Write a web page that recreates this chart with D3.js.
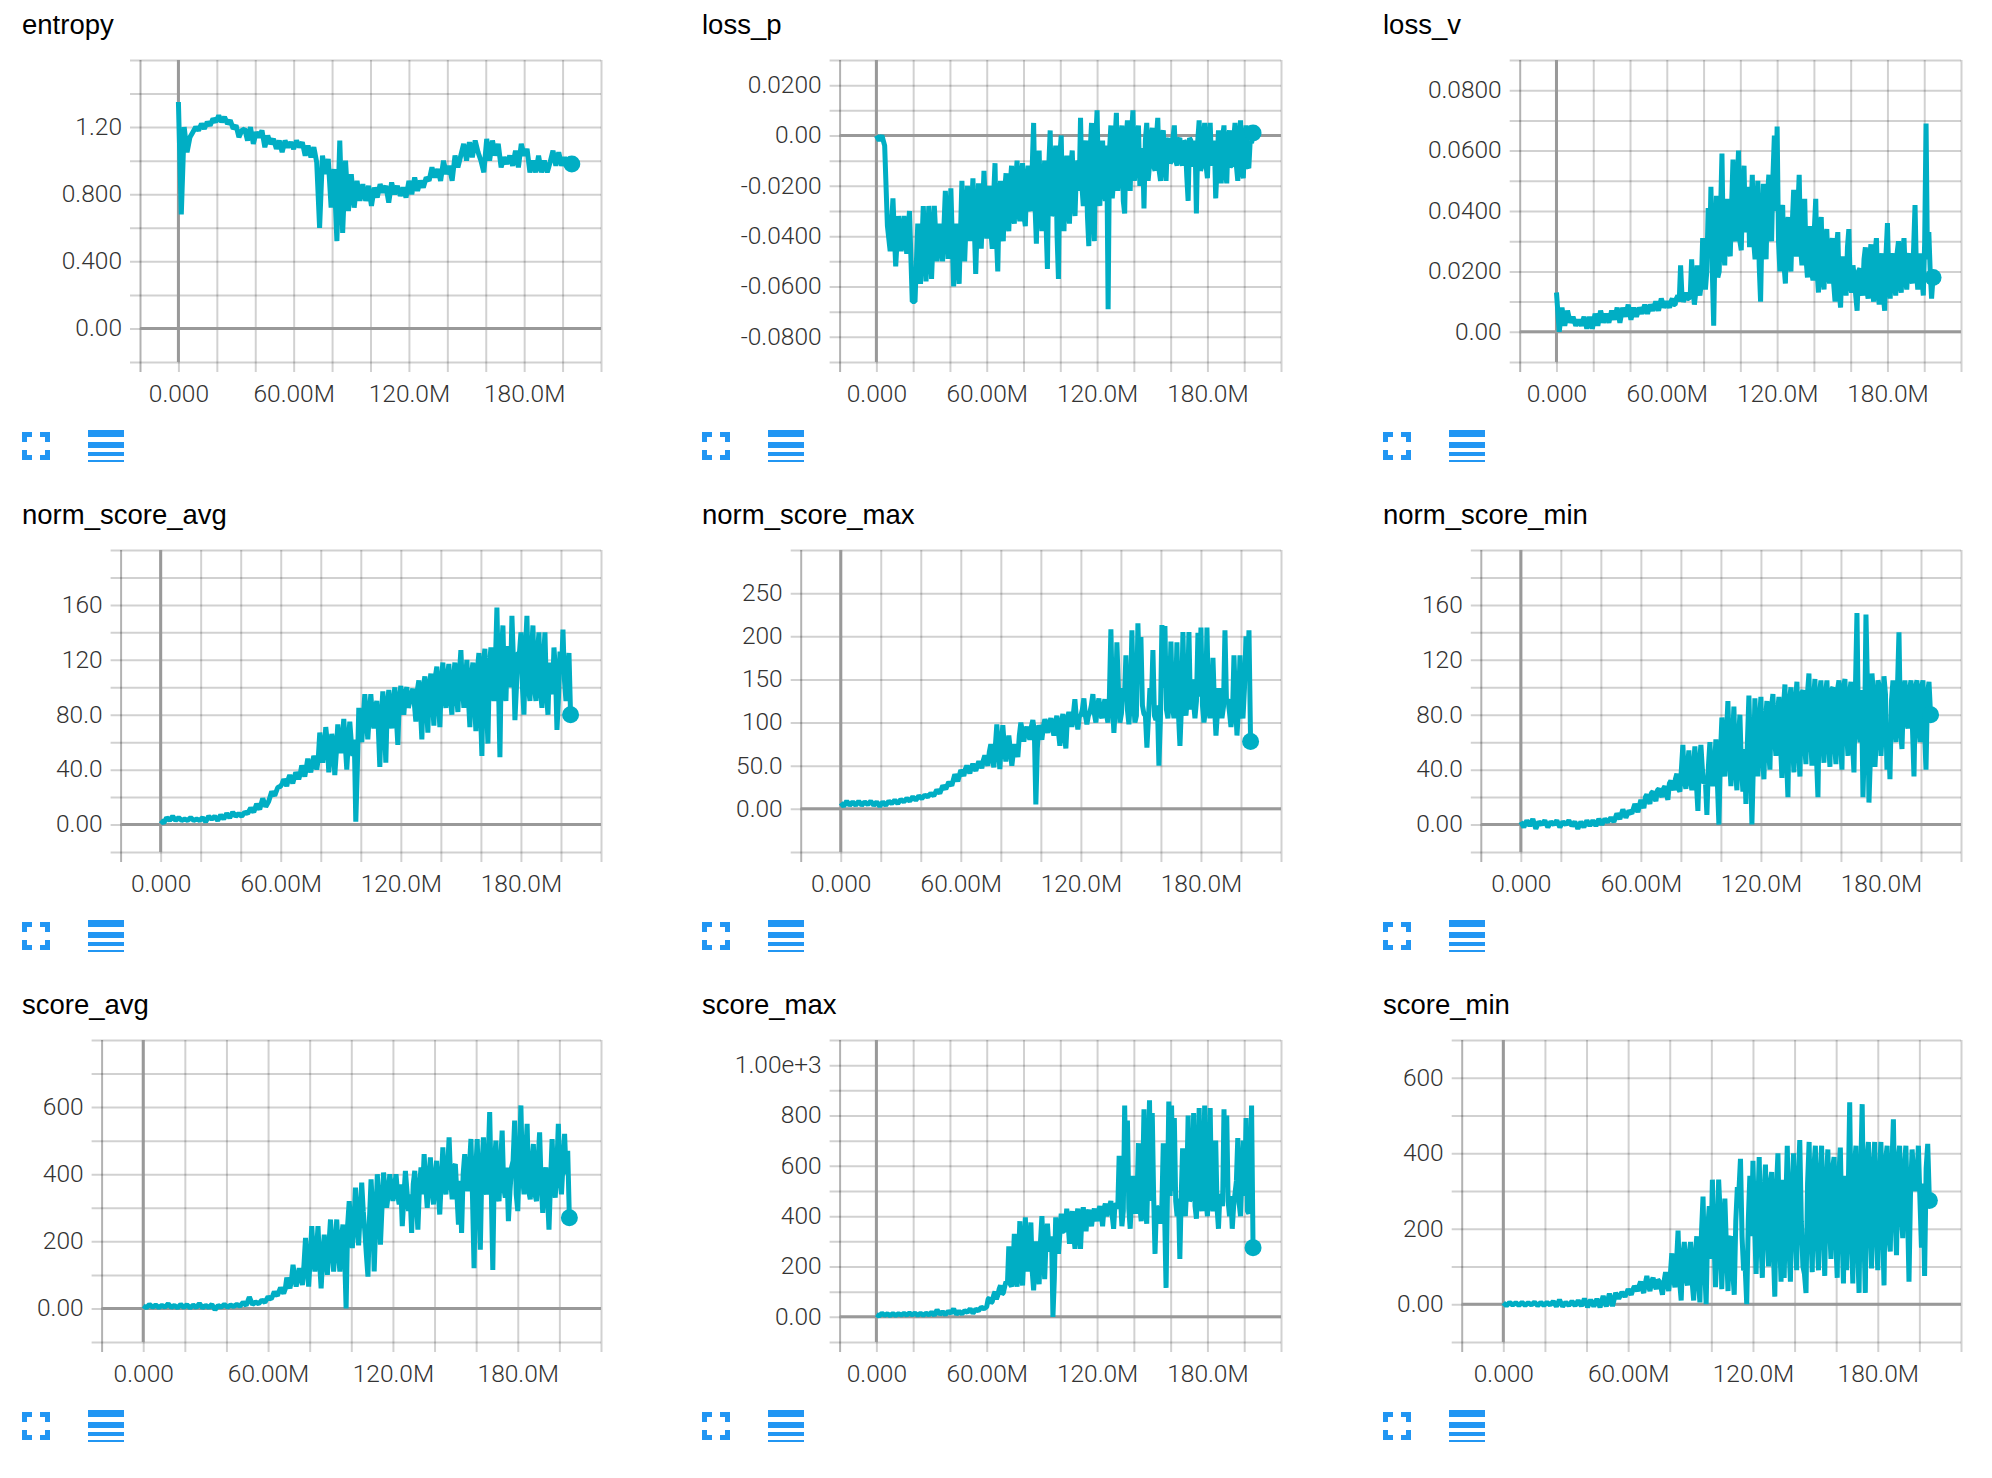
<!DOCTYPE html>
<html>
<head>
<meta charset="utf-8">
<script src="https://cdn.jsdelivr.net/npm/d3@7"></script>
<style>
	body { margin: 0; background: #fff; }
	.title { font-family: "Liberation Sans", sans-serif; font-size: 27.5px; fill: #000; }
	.tick text { font-family: Roboto, sans-serif; font-weight: 300; font-size: 24.5px; fill: #333; }
	.grid line { stroke: #000; stroke-opacity: 0.18; stroke-width: 2px; }
	.grid .domain { display: none; }
	.zero { stroke: #999; stroke-width: 3px; }
	.run { fill: none; stroke: #00aec4; stroke-width: 5px; stroke-linejoin: bevel; }
	.last { fill: #00aec4; }
	.icon { fill: #2196f3; }
</style>
</head>
<body>
<div id="viz"></div>
<script>
// training steps in millions, one value every 1.5M and then the last logged step
var steps = d3.range(0, 205, 1.5).concat([204.8]);
// the noisy part of a run is read twice as fine, these fall between the steps above
var fineSteps = d3.range(60.75, 204, 1.5);

var xTicks = [-20, 0, 20, 40, 60, 80, 100, 120, 140, 160, 180, 200, 220];
var xLabels = ["", "0.000", "", "", "60.00M", "", "", "120.0M", "", "", "180.0M", "", ""];

var entropyValues = [
	1.35,0.68,1.20,1.05,1.14,1.17,1.20,1.18,1.22,1.19,
	1.23,1.21,1.25,1.23,1.27,1.23,1.26,1.22,1.24,1.19,
	1.21,1.14,1.18,1.19,1.12,1.20,1.10,1.17,1.14,1.18,
	1.08,1.15,1.10,1.13,1.07,1.12,1.05,1.12,1.08,1.11,
	1.07,1.12,1.08,1.11,1.03,1.09,1.02,1.08,0.99,0.60,
	1.03,0.92,1.01,0.72,0.95,0.52,1.12,0.57,1.00,0.70,
	0.92,0.72,0.88,0.76,0.86,0.76,0.85,0.73,0.84,0.78,
	0.86,0.81,0.85,0.75,0.87,0.80,0.85,0.79,0.84,0.78,
	0.88,0.80,0.90,0.82,0.88,0.84,0.90,0.88,0.96,0.90,
	0.95,0.88,1.00,0.92,0.97,0.88,1.03,0.96,1.03,1.10,
	1.00,1.11,1.02,1.12,1.05,1.00,0.93,1.13,1.00,1.12,
	1.03,1.10,0.96,1.02,0.98,1.03,0.97,1.06,0.96,1.10,
	1.03,1.07,0.93,1.00,0.93,1.03,0.93,1.00,0.93,0.99,
	1.06,0.97,1.05,0.97,1.02,0.96,1.00,0.98
];
var entropyFine = [];
var entropyTicks = [-0.2, 0, 0.2, 0.4, 0.6, 0.8, 1.0, 1.2, 1.4, 1.6];
var entropyLabels = ["", "0.00", "", "0.400", "", "0.800", "", "1.20", "", ""];

var lossPValues = [
	0.000,-0.002,0.000,-0.004,-0.036,-0.046,-0.025,-0.052,-0.032,-0.046,
	-0.032,-0.047,-0.030,-0.066,-0.066,-0.035,-0.059,-0.028,-0.058,-0.028,
	-0.057,-0.028,-0.050,-0.035,-0.050,-0.022,-0.049,-0.021,-0.060,-0.035,
	-0.059,-0.018,-0.050,-0.020,-0.042,-0.017,-0.055,-0.019,-0.045,-0.014,
	-0.041,-0.020,-0.045,-0.011,-0.054,-0.018,-0.042,-0.015,-0.038,-0.012,
	-0.035,-0.010,-0.034,-0.011,-0.036,-0.012,-0.030,0.005,-0.043,-0.006,
	-0.038,-0.010,-0.053,0.002,-0.030,-0.004,-0.057,0.000,-0.038,-0.008,
	-0.035,-0.006,-0.032,-0.010,0.007,-0.028,-0.002,-0.044,0.005,-0.042,
	0.010,-0.028,-0.002,-0.026,-0.069,0.004,-0.018,0.009,-0.016,0.004,
	-0.031,0.006,-0.022,0.010,-0.013,0.004,-0.014,-0.029,0.005,-0.012,
	0.003,-0.014,0.007,-0.018,0.002,-0.018,-0.001,-0.010,0.004,-0.012,
	-0.001,-0.012,-0.003,-0.026,-0.002,-0.012,-0.031,0.006,-0.012,0.005,
	-0.017,0.005,-0.010,-0.025,0.002,-0.019,0.004,-0.019,0.002,-0.012,
	0.005,-0.018,0.006,-0.017,0.004,-0.013,-0.003,0.001
];
var lossPFine = [
	-0.028,-0.038,-0.024,-0.040,-0.026,-0.035,-0.022,-0.034,-0.020,-0.032,
	-0.018,-0.030,-0.016,-0.032,-0.018,-0.028,-0.012,-0.028,-0.014,-0.030,
	-0.020,-0.035,-0.012,-0.032,-0.012,-0.040,-0.008,-0.030,-0.014,-0.030,
	-0.012,-0.026,-0.014,-0.022,-0.020,-0.006,-0.032,-0.006,-0.030,-0.002,
	-0.020,-0.008,-0.022,-0.004,-0.006,-0.025,-0.002,-0.022,-0.002,-0.026,
	-0.002,-0.016,0.001,-0.018,-0.001,-0.020,-0.005,-0.002,-0.018,-0.001,
	-0.012,-0.001,-0.014,0.000,-0.012,-0.003,-0.011,-0.001,-0.010,-0.002,
	-0.009,-0.002,-0.016,-0.001,-0.011,-0.002,-0.002,-0.014,-0.002,-0.012,
	-0.002,-0.012,-0.002,-0.012,-0.004,-0.001,-0.014,-0.001,-0.012,-0.002,
	-0.012,-0.002,-0.014,-0.002,-0.012,-0.002
];
var lossPTicks = [-0.09, -0.08, -0.07, -0.06, -0.05, -0.04, -0.03, -0.02, -0.01, 0, 0.01, 0.02, 0.03];
var lossPLabels = ["", "-0.0800", "", "-0.0600", "", "-0.0400", "", "-0.0200", "", "0.00", "", "0.0200", ""];

var lossVValues = [
	0.013,0.000,0.008,0.002,0.007,0.003,0.005,0.002,0.004,0.002,
	0.005,0.001,0.005,0.001,0.006,0.002,0.007,0.003,0.006,0.003,
	0.007,0.004,0.008,0.003,0.008,0.005,0.009,0.004,0.008,0.005,
	0.008,0.006,0.009,0.006,0.009,0.007,0.010,0.007,0.011,0.008,
	0.010,0.008,0.011,0.009,0.012,0.022,0.010,0.013,0.011,0.024,
	0.009,0.022,0.012,0.031,0.014,0.041,0.048,0.002,0.045,0.020,
	0.059,0.022,0.044,0.025,0.057,0.030,0.060,0.027,0.055,0.035,
	0.028,0.052,0.024,0.050,0.010,0.049,0.024,0.052,0.030,0.065,
	0.068,0.020,0.042,0.016,0.038,0.020,0.047,0.025,0.052,0.022,
	0.044,0.018,0.035,0.017,0.044,0.013,0.038,0.014,0.034,0.016,
	0.031,0.010,0.033,0.008,0.025,0.012,0.034,0.013,0.018,0.007,
	0.021,0.012,0.028,0.011,0.029,0.010,0.031,0.009,0.026,0.007,
	0.036,0.011,0.026,0.012,0.030,0.013,0.031,0.014,0.026,0.016,
	0.042,0.014,0.026,0.012,0.069,0.033,0.011,0.018
];
var lossVFine = [
	0.009,0.010,0.009,0.011,0.010,0.012,0.011,0.011,0.012,0.014,
	0.013,0.015,0.016,0.018,0.020,0.025,0.020,0.030,0.018,0.040,
	0.028,0.040,0.027,0.042,0.032,0.048,0.030,0.046,0.033,0.048,
	0.038,0.030,0.040,0.022,0.034,0.030,0.045,0.033,0.052,0.040,
	0.030,0.040,0.022,0.035,0.024,0.036,0.028,0.040,0.028,0.038,
	0.024,0.032,0.020,0.034,0.020,0.032,0.018,0.030,0.020,0.028,
	0.016,0.028,0.014,0.022,0.016,0.028,0.016,0.022,0.012,0.020,
	0.014,0.024,0.014,0.024,0.014,0.026,0.014,0.022,0.012,0.026,
	0.018,0.024,0.016,0.026,0.016,0.026,0.018,0.024,0.018,0.028,
	0.020,0.022,0.018,0.030,0.024,0.020
];
var lossVTicks = [-0.01, 0, 0.01, 0.02, 0.03, 0.04, 0.05, 0.06, 0.07, 0.08, 0.09];
var lossVLabels = ["", "0.00", "", "0.0200", "", "0.0400", "", "0.0600", "", "0.0800", ""];

var normAvgValues = [
	3,1,5,3,6,3,5,3,4,3,
	5,3,4,3,5,2,6,4,6,3,
	7,4,8,5,9,6,8,6,9,8,
	12,9,15,11,19,13,17,24,21,27,
	28,33,28,36,30,38,33,43,35,48,
	38,50,40,67,45,71,38,66,36,73,
	52,77,40,75,50,2,85,60,95,62,
	95,70,90,42,97,45,98,70,100,58,
	101,80,100,90,99,75,105,62,108,67,
	110,72,115,71,118,85,117,80,118,82,
	127,85,120,71,118,68,125,50,128,59,
	129,90,158,49,145,90,120,152,76,125,
	140,80,152,90,145,90,140,85,140,80,
	100,129,69,126,142,90,125,80
];
var normAvgFine = [
	30,31,33,33,34,36,37,39,41,42,
	44,47,48,58,55,60,50,60,52,60,
	62,58,60,60,62,40,68,78,78,80,
	80,85,70,78,75,88,80,90,78,92,
	88,96,85,95,88,98,85,100,88,102,
	92,108,90,105,95,108,92,106,95,110,
	100,105,92,108,90,112,85,118,90,115,
	100,118,105,125,100,130,100,120,100,125,
	100,128,100,125,100,125,98,120,96,118,
	95,112,92,110,105,108
];
var normAvgTicks = [-20, 0, 20, 40, 60, 80, 100, 120, 140, 160, 180, 200];
var normAvgLabels = ["", "0.00", "", "40.0", "", "80.0", "", "120", "", "160", "", ""];

var normMaxValues = [
	7,3,9,4,8,4,9,4,8,5,
	9,4,8,3,8,4,9,6,10,6,
	11,8,12,9,14,10,15,12,16,14,
	18,15,22,18,27,23,31,27,40,32,
	45,38,50,41,52,44,55,47,62,50,
	75,48,98,46,97,55,85,50,75,60,
	100,78,95,80,103,5,97,80,104,88,
	105,85,108,73,110,70,112,95,127,92,
	108,128,98,112,133,100,128,105,127,100,
	208,88,193,100,140,178,98,207,100,215,
	199,110,71,140,184,103,50,213,212,105,
	194,105,193,73,205,108,205,150,105,204,
	210,100,210,105,175,85,140,105,207,127,
	95,178,85,178,105,200,207,78
];
var normMaxFine = [
	42,46,46,48,48,50,52,56,56,66,
	60,72,70,75,72,70,68,65,68,85,
	90,90,88,95,90,70,90,95,96,100,
	95,100,90,100,85,105,105,110,105,108,
	115,108,108,120,110,118,110,118,110,130,
	125,120,140,110,125,115,125,130,108,150,
	120,108,105,125,108,120,105,140,115,130,
	120,125,110,118,125,130,115,125,125,130,
	120,115,125,118,120,112,125,118,125,112,
	110,125,115,115,140,150
];
var normMaxTicks = [-50, 0, 50, 100, 150, 200, 250, 300];
var normMaxLabels = ["", "0.00", "50.0", "100", "150", "200", "250", ""];

var normMinValues = [
	2,-2,3,-1,4,-3,2,0,3,-2,
	2,0,3,-2,2,0,3,-1,2,-3,
	2,-2,3,-1,3,-1,4,0,4,2,
	5,2,8,4,11,5,10,8,15,9,
	18,12,22,15,24,17,26,20,28,18,
	32,25,37,24,58,26,54,25,57,10,
	58,30,7,60,28,62,0,78,35,90,
	28,86,25,80,24,15,94,0,92,35,
	93,33,90,40,95,50,93,34,102,20,
	100,38,104,35,98,44,110,43,106,20,
	105,45,105,42,100,44,105,40,106,50,
	104,38,154,60,20,153,16,110,42,105,
	50,108,40,33,105,60,140,55,105,70,
	105,35,105,60,105,40,104,80
];
var normMinFine = [
	15,20,18,23,20,25,23,26,22,30,
	28,33,26,40,32,42,32,40,30,45,
	40,32,42,38,40,30,50,55,65,50,
	60,40,62,42,55,60,50,45,58,75,
	50,75,55,85,65,80,60,85,50,90,
	60,90,55,95,60,95,65,90,50,95,
	65,95,60,98,60,98,60,100,70,95,
	60,100,70,98,60,100,50,95,65,100,
	70,95,65,90,75,100,70,95,75,98,
	70,100,75,100,70,95
];
var normMinTicks = [-20, 0, 20, 40, 60, 80, 100, 120, 140, 160, 180, 200];
var normMinLabels = ["", "0.00", "", "40.0", "", "80.0", "", "120", "", "160", "", ""];

var scoreAvgValues = [
	8,2,12,4,10,3,9,4,14,3,
	9,2,12,3,11,2,10,3,15,2,
	9,3,12,-4,9,4,12,4,10,6,
	12,7,18,9,34,12,19,14,25,18,
	35,28,50,38,62,45,92,60,130,65,
	120,70,210,65,245,110,245,60,220,100,
	265,110,265,110,250,0,320,180,360,188,
	375,230,95,385,110,400,190,405,300,400,
	320,400,310,245,410,290,225,410,235,420,
	460,300,450,310,440,280,480,340,510,325,
	430,250,225,460,350,505,120,505,175,510,
	340,585,115,500,320,530,330,260,420,560,
	290,605,340,550,325,490,320,525,285,420,
	235,505,330,550,340,520,470,270
];
var scoreAvgFine = [
	30,38,42,50,52,58,72,85,95,90,
	95,130,120,150,160,170,140,150,150,190,
	180,190,170,210,170,250,250,250,270,280,
	290,160,270,290,260,320,300,350,340,360,
	360,340,370,330,350,340,370,320,360,340,
	370,380,360,390,350,380,370,410,380,420,
	340,380,400,380,420,330,400,340,420,360,
	440,360,430,340,430,360,420,350,440,340,
	440,400,450,350,430,340,440,370,400,340,
	380,390,420,390,430,400
];
var scoreAvgTicks = [-100, 0, 100, 200, 300, 400, 500, 600, 700, 800];
var scoreAvgLabels = ["", "0.00", "", "200", "", "400", "", "600", "", ""];

var scoreMaxValues = [
	10,3,14,6,12,5,13,6,12,7,
	14,7,15,8,15,6,14,6,14,8,
	18,6,28,10,20,8,22,14,32,10,
	22,12,24,18,32,14,30,24,38,32,
	40,75,60,100,85,125,95,140,280,120,
	330,120,380,125,395,180,375,105,300,130,
	400,150,370,260,0,395,250,410,340,430,
	290,420,270,430,270,435,340,425,360,430,
	380,440,360,450,420,460,350,445,640,360,
	840,780,350,560,410,690,380,825,370,860,
	810,250,430,370,690,115,855,840,790,400,
	230,670,400,800,470,810,390,830,420,840,
	400,830,420,700,350,480,825,800,400,350,
	490,710,400,700,790,410,840,275
];
var scoreMaxFine = [
	70,55,85,70,110,90,120,130,130,180,
	150,220,170,260,240,270,180,220,180,300,
	270,300,280,320,150,330,330,340,360,370,
	380,330,390,340,400,380,410,390,410,400,
	420,410,430,400,440,400,450,430,470,420,
	500,430,470,450,480,440,520,430,600,460,
	480,440,420,450,400,480,480,500,460,470,
	480,440,520,460,520,440,530,450,560,460,
	520,450,560,430,480,440,520,460,480,440,
	540,450,560,480,420,520
];
var scoreMaxTicks = [-100, 0, 100, 200, 300, 400, 500, 600, 700, 800, 900, 1000, 1100];
var scoreMaxLabels = ["", "0.00", "", "200", "", "400", "", "600", "", "800", "", "1.00e+3", ""];

var scoreMinValues = [
	4,-4,5,-2,4,-3,5,-3,4,-2,
	6,-4,5,-3,5,-2,8,-6,12,-6,
	5,-3,8,-4,10,-5,15,-8,12,-6,
	14,-8,22,-6,28,-5,30,15,32,20,
	40,25,48,35,60,30,75,35,70,40,
	60,25,85,35,135,45,195,10,165,50,
	165,10,180,5,285,0,260,330,45,330,
	40,280,35,180,25,310,385,90,0,340,
	380,80,390,70,370,100,350,20,400,60,
	70,420,60,400,90,435,100,30,430,85,
	420,90,420,75,410,120,390,70,415,55,
	90,535,55,420,30,530,30,430,95,430,
	90,430,50,420,140,490,130,420,175,420,
	60,410,300,420,150,75,425,275
];
var scoreMinFine = [
	32,38,42,48,40,55,50,60,50,65,
	45,60,55,75,70,110,60,125,70,130,
	60,130,60,190,100,200,120,180,140,240,
	160,150,170,90,220,300,180,100,220,180,
	220,240,180,280,200,320,150,300,180,330,
	260,160,300,200,320,220,80,320,200,360,
	180,340,200,320,220,360,180,340,200,340,
	280,200,360,160,340,200,380,220,360,200,
	340,220,380,180,360,240,380,240,360,260,
	300,340,320,280,320,360
];
var scoreMinTicks = [-100, 0, 100, 200, 300, 400, 500, 600, 700];
var scoreMinLabels = ["", "0.00", "", "200", "", "400", "", "600", ""];

// layout of the 3x3 board
var panelLefts = [22, 702, 1383];
var rowTops = [60, 550, 1040];
var plotRights = [601, 1281, 1961];
var plotLefts = [
	[140, 839.6, 1519.7],
	[120.6, 800.7, 1480.8],
	[101.6, 839.6, 1461.7]
];
var plotHeight = 302;

var charts = [
	{ title: "entropy", values: entropyValues, fine: entropyFine, ticks: entropyTicks, labels: entropyLabels },
	{ title: "loss_p", values: lossPValues, fine: lossPFine, ticks: lossPTicks, labels: lossPLabels },
	{ title: "loss_v", values: lossVValues, fine: lossVFine, ticks: lossVTicks, labels: lossVLabels },
	{ title: "norm_score_avg", values: normAvgValues, fine: normAvgFine, ticks: normAvgTicks, labels: normAvgLabels },
	{ title: "norm_score_max", values: normMaxValues, fine: normMaxFine, ticks: normMaxTicks, labels: normMaxLabels },
	{ title: "norm_score_min", values: normMinValues, fine: normMinFine, ticks: normMinTicks, labels: normMinLabels },
	{ title: "score_avg", values: scoreAvgValues, fine: scoreAvgFine, ticks: scoreAvgTicks, labels: scoreAvgLabels },
	{ title: "score_max", values: scoreMaxValues, fine: scoreMaxFine, ticks: scoreMaxTicks, labels: scoreMaxLabels },
	{ title: "score_min", values: scoreMinValues, fine: scoreMinFine, ticks: scoreMinTicks, labels: scoreMinLabels }
];

var svg = d3.select("#viz")
	.append("svg")
	.attr("width", 1992)
	.attr("height", 1478);

function drawIcons(g, left, top) {
	// fullscreen corners
	var corners = g.append("g").attr("class", "icon").attr("transform", "translate(" + left + "," + top + ")");
	corners.append("path").attr("d", "M0,2H10V7H5V12H0Z");
	corners.append("path").attr("d", "M18,2H28V12H23V7H18Z");
	corners.append("path").attr("d", "M0,20H5V25H10V30H0Z");
	corners.append("path").attr("d", "M23,20H28V30H18V25H23Z");
	// table lines
	var bars = [[0, 7], [12, 6], [22, 4], [30, 2]];
	g.append("g").attr("class", "icon")
		.attr("transform", "translate(" + (left + 66) + "," + top + ")")
		.selectAll("rect")
		.data(bars)
		.enter()
		.append("rect")
		.attr("y", function(d) { return d[0]; })
		.attr("width", 36)
		.attr("height", function(d) { return d[1]; });
}

function drawChart(chart, i) {
	var row = Math.floor(i / 3);
	var col = i % 3;
	var left = plotLefts[row][col];
	var right = plotRights[col];
	var top = rowTops[row];

	var x = d3.scaleLinear()
		.domain([xTicks[0], xTicks[xTicks.length - 1]])
		.range([left, right]);
	var y = d3.scaleLinear()
		.domain([chart.ticks[0], chart.ticks[chart.ticks.length - 1]])
		.range([top + plotHeight, top]);

	var g = svg.append("g");

	g.append("text")
		.attr("class", "title")
		.attr("x", panelLefts[col])
		.attr("y", top - 26)
		.text(chart.title);

	var xAxis = d3.axisBottom(x)
		.tickValues(xTicks)
		.tickFormat(function(d, j) { return xLabels[j]; });
	var gx = g.append("g")
		.attr("class", "grid")
		.attr("transform", "translate(0," + (top + plotHeight) + ")")
		.call(xAxis);
	gx.selectAll("line").attr("y1", 10).attr("y2", -plotHeight);
	gx.selectAll("text").attr("y", 20).attr("dy", "0.8em");
	// the first vertical is a bit stronger
	gx.selectAll("line").filter(function(d) { return d == xTicks[0]; }).style("stroke-opacity", 0.3);

	var yAxis = d3.axisLeft(y)
		.tickValues(chart.ticks)
		.tickFormat(function(d, j) { return chart.labels[j]; });
	var gy = g.append("g")
		.attr("class", "grid")
		.attr("transform", "translate(" + (left - 10) + ",0)")
		.call(yAxis);
	gy.selectAll("line").attr("x1", 0).attr("x2", right - left + 10);
	gy.selectAll("text").attr("x", -8).attr("dy", "0.3em");

	// darker lines through zero
	g.append("line").attr("class", "zero")
		.attr("x1", x(0)).attr("x2", x(0))
		.attr("y1", top).attr("y2", top + plotHeight);
	g.append("line").attr("class", "zero")
		.attr("x1", left).attr("x2", right)
		.attr("y1", y(0)).attr("y2", y(0));

	var points = steps.map(function(s, j) {
		return { step: s, value: chart.values[j] };
	}).concat(chart.fine.map(function(v, j) {
		return { step: fineSteps[j], value: v };
	}));
	points.sort(function(a, b) { return a.step - b.step; });

	var line = d3.line()
		.x(function(d) { return x(d.step); })
		.y(function(d) { return y(d.value); });

	g.append("path")
		.attr("class", "run")
		.attr("d", line(points));

	g.append("circle")
		.attr("class", "last")
		.attr("cx", x(points[points.length - 1].step))
		.attr("cy", y(points[points.length - 1].value))
		.attr("r", 8.5);

	drawIcons(g, panelLefts[col], top + plotHeight + 68);
}

charts.forEach(drawChart);
</script>
</body>
</html>
